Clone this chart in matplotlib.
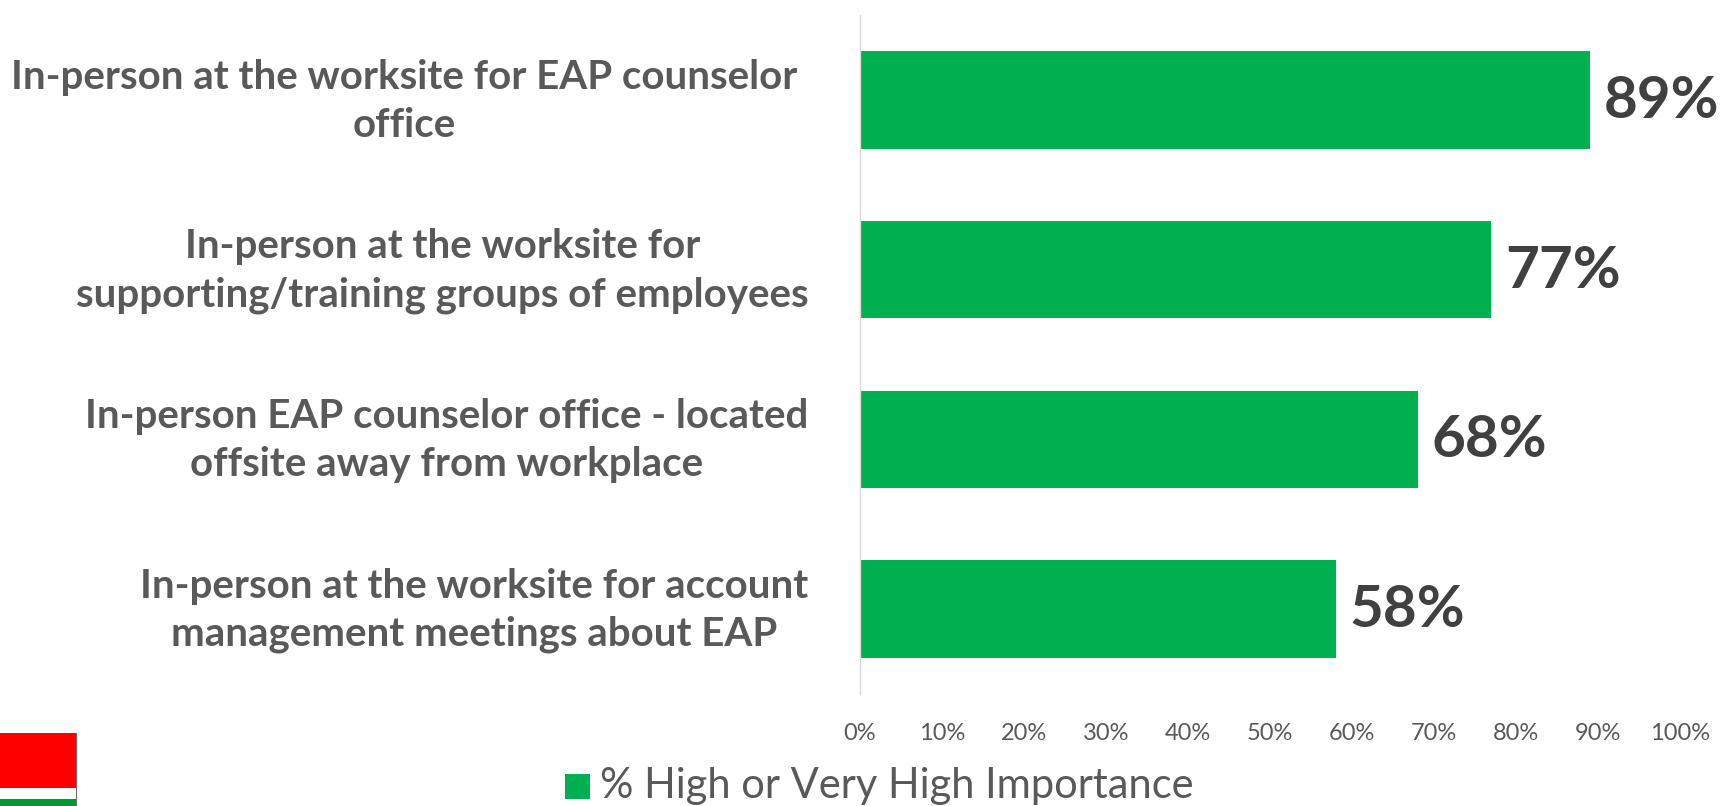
"""Plots importance of in-person EAP services."""

import matplotlib.pyplot as plt
from matplotlib.lines import Line2D
from matplotlib.patches import Rectangle

categories = [
    'In-person at the worksite for EAP counselor\noffice',
    'In-person at the worksite for\nsupporting/training groups of employees',
    'In-person EAP counselor office - located\noffsite away from workplace',
    'In-person at the worksite for account\nmanagement meetings about EAP',
]
values = [89, 77, 68, 58]
value_labels = ['89%', '77%', '68%', '58%']
ticks = [0, 10, 20, 30, 40, 50, 60, 70, 80, 90, 100]
series_name = '% High or Very High Importance'

W, H = 1722, 806
GREEN = '#00B050'

plt.rcParams['font.family'] = ['Lato', 'DejaVu Sans']

fig = plt.figure(figsize=(W / 100, H / 100), dpi=100)
ax = fig.add_axes([860 / W, 1 - 694 / H, (1680 - 860) / W, (694 - 15) / H])

positions = list(range(len(values)))
ax.barh(positions, values, height=0.575, color=GREEN)
ax.set_xlim(0, 100)
ax.set_ylim(3.5, -0.5)

ax.set_xticks(ticks)
ax.set_xticklabels([f'{t}%' for t in ticks], fontsize=17, color='#595959')
ax.set_yticks([])
ax.tick_params(axis='x', length=0, pad=21)

for side in ['top', 'right', 'bottom']:
    ax.spines[side].set_visible(False)
ax.spines['left'].set_color('#D9D9D9')
ax.spines['left'].set_linewidth(1)

for pos, val, lab in zip(positions, values, value_labels):
    ax.annotate(lab, xy=(val, pos), xytext=(10, -1), textcoords='offset points',
                va='center', ha='left', fontsize=42, fontweight='bold',
                color='#404040')

# category labels sit left of the axis, the first one stops a bit short
for pos, cat in zip(positions, categories):
    right = -37 if pos else -45
    ax.annotate(cat, xy=(0, pos), xytext=(right, -1), textcoords='offset points',
                ha='right', va='center', multialignment='center', fontsize=29,
                fontweight='bold', color='#595959', linespacing=1.36,
                annotation_clip=False)

# legend
fig.add_artist(Rectangle((565 / W, 1 - 799 / H), 25 / W, 25 / H,
                         transform=fig.transFigure, color=GREEN, lw=0))
fig.text(600 / W, 1 - 786 / H, series_name, fontsize=30, color='#595959',
         va='center', ha='left')

# logo in the corner
fig.add_artist(Rectangle((0, 1 - 788 / H), 76 / W, 55 / H,
                         transform=fig.transFigure, color='#FF0000', lw=0))
fig.add_artist(Rectangle((0, 0), 76 / W, 7 / H,
                         transform=fig.transFigure, color='#009933', lw=0))
fig.add_artist(Line2D([75.5 / W, 75.5 / W], [0, 1 - 733 / H],
                      transform=fig.transFigure, color='#707070', lw=0.8))

fig.savefig('out.png', dpi=100)
